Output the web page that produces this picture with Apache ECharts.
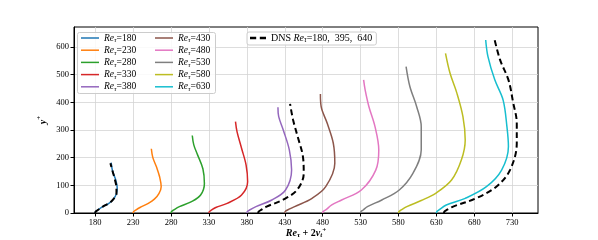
<!DOCTYPE html>
<html><head><meta charset="utf-8">
<script src="https://cdn.jsdelivr.net/npm/echarts@6/dist/echarts.min.js"></script>
<style>html,body{margin:0;padding:0;background:#fff}#c{width:598px;height:240px}</style>
</head><body><div id="c"></div>
<script>
// ---- data ----
const reTau = [180, 230, 280, 330, 380, 430, 480, 530, 580, 630];
const xTicks = [180, 230, 280, 330, 380, 430, 480, 530, 580, 630, 680, 730];
const yTicks = [0, 100, 200, 300, 400, 500, 600];

const y180 = [0, 5, 10, 23, 35, 50, 70, 90, 120, 150, 182];
const x180 = [180, 180.5, 183, 190, 198, 204, 208, 209, 207, 203, 201];
const y230 = [0, 5, 10, 20, 35, 50, 70, 95, 130, 165, 200, 232];
const x230 = [230, 230.5, 233, 239, 250, 258, 264, 267, 265, 261, 256, 254];
const y280 = [0, 5, 10, 23, 41, 65, 107, 160, 210, 246, 280];
const x280 = [280, 280.5, 283, 291, 307, 319, 324, 322, 315, 310, 308];
const y330 = [0, 5, 10, 20, 35, 65, 113, 173, 234, 294, 330];
const x330 = [330, 330.5, 333, 339, 354, 373, 381, 379, 373, 367, 365];
const y380 = [0, 5, 10, 23, 47, 83, 155, 228, 300, 348, 382];
const x380 = [380, 380.5, 383, 392, 413, 431, 439, 436, 428, 422, 421];
const y430 = [0, 5, 10, 23, 53, 95, 180, 252, 324, 384, 430];
const x430 = [430, 430.5, 433, 443, 466, 484, 496, 494, 486, 478, 477];
const y480 = [0, 5, 11, 29, 47, 83, 155, 228, 312, 384, 445, 481];
const x480 = [480, 480.5, 484, 492, 505, 531, 550, 554, 549, 541, 536, 534];
const y530 = [0, 5, 10, 23, 47, 83, 143, 228, 312, 384, 457, 529];
const x530 = [530, 530.5, 533, 539, 558, 581, 599, 610, 610, 604, 595, 590];
const y580 = [0, 5, 10, 23, 45, 71, 119, 192, 264, 348, 433, 505, 577];
const x580 = [580, 580.5, 583, 591, 610, 629, 650, 663, 668, 665, 657, 648, 642];
const y630 = [0, 5, 10, 29, 53, 95, 155, 240, 312, 408, 481, 565, 625];
const x630 = [630, 630.5, 633, 643, 668, 696, 716, 725, 723, 718, 707, 698, 695];

const yDns180 = [0, 5, 10, 23, 35, 50, 70, 90, 120, 150, 180];
const xDns180 = [180, 180.5, 183, 190, 198, 204, 208, 208, 206, 203, 200];
const yDns395 = [0, 5, 10, 23, 47, 83, 143, 203, 276, 336, 394];
const xDns395 = [395, 395.5, 398, 406, 427, 446, 455, 454, 447, 441, 437];
const yDns640 = [0, 5, 10, 23, 53, 95, 155, 252, 324, 402, 481, 553, 635];
const xDns640 = [640, 640.5, 643, 652, 682, 709, 727, 736, 736, 731, 725, 714, 706];

const modelX = [x180, x230, x280, x330, x380, x430, x480, x530, x580, x630];
const modelY = [y180, y230, y280, y330, y380, y430, y480, y530, y580, y630];
const dnsX = [xDns180, xDns395, xDns640];
const dnsY = [yDns180, yDns395, yDns640];
const dnsLabel = '180,  395,  640';

const colors = ['#1f77b4', '#ff7f0e', '#2ca02c', '#d62728', '#9467bd',
                '#8c564b', '#e377c2', '#7f7f7f', '#bcbd22', '#17becf'];

const pairs = (xs, ys) => xs.map((v, i) => [v, ys[i]]);
const FONT = 'Liberation Serif';

const series = reTau.map((re, k) => ({
  name: 'Re' + re, type: 'line', data: pairs(modelX[k], modelY[k]),
  showSymbol: false, symbol: 'none', smooth: 0.35, z: 3,
  lineStyle: { color: colors[k], width: 1.5 }, itemStyle: { color: colors[k] }
}));
let dnsData = [];
dnsX.forEach((xs, k) => { if (k) dnsData.push([null, null]); dnsData = dnsData.concat(pairs(xs, dnsY[k])); });
series.push({
  name: 'DNS', type: 'line', data: dnsData, connectNulls: false,
  showSymbol: false, symbol: 'none', smooth: 0.35, z: 4,
  lineStyle: { color: '#000', width: 2, type: [6, 3.5] }, itemStyle: { color: '#000' }
});

const mkRich = fs => ({
  i: { fontFamily: FONT, fontStyle: 'italic', fontSize: fs, lineHeight: 12, color: '#000' },
  s: { fontFamily: FONT, fontStyle: 'italic', fontSize: fs * 0.74, lineHeight: 12, verticalAlign: 'bottom', color: '#000' },
  n: { fontFamily: FONT, fontSize: fs, lineHeight: 12, color: '#000' }
});
const legendCommon = {
  orient: 'vertical', itemWidth: 18, itemHeight: 8, itemGap: 1.2, padding: 0,
  textStyle: { rich: mkRich(9.5), padding: [0, 0, 0, 0] }, icon: 'path://M0,0L18,0L18,1.5L0,1.5Z',
  selectedMode: false
};
const fmt = name => name === 'DNS'
  ? `{n|DNS }{i|Re}{s|τ}{n|=${dnsLabel}}`
  : `{i|Re}{s|τ}{n|=${name.slice(2)}}`;

const option = {
  animation: false,
  grid: { left: 74, right: 60, top: 27, bottom: 27, outerBoundsMode: 'none', containLabel: false,
          show: true, borderColor: '#000', borderWidth: 1 },
  xAxis: {
    type: 'value', min: 152, max: 764,
    axisLine: { lineStyle: { color: '#000', width: 1 } },
    axisTick: { show: true, length: 3.5, customValues: xTicks, lineStyle: { color: '#000' } },
    axisLabel: { customValues: xTicks, fontFamily: FONT, fontSize: 8.5, color: '#000', margin: 5 },
    splitLine: { show: true, lineStyle: { color: '#d4d4d4', width: 0.8 } },
    name: '{b|Re}{bs|τ}{bn| + 2}{b|ν}{bs|t}{bp|+}', nameLocation: 'middle', nameGap: 14, nameMoveOverlap: false,
    nameTextStyle: { rich: {
      b: { fontFamily: FONT, fontStyle: 'italic', fontWeight: 'bold', fontSize: 10, lineHeight: 12, color: '#000' },
      bn: { fontFamily: FONT, fontWeight: 'bold', fontSize: 10, lineHeight: 12, color: '#000' },
      bs: { fontFamily: FONT, fontStyle: 'italic', fontWeight: 'bold', fontSize: 7, lineHeight: 12, verticalAlign: 'bottom', color: '#000' },
      bp: { fontFamily: FONT, fontWeight: 'bold', fontSize: 7, lineHeight: 12, verticalAlign: 'top', color: '#000' }
    } }
  },
  yAxis: {
    type: 'value', min: 0, max: 672,
    axisLine: { show: true, lineStyle: { color: '#000', width: 1 } },
    axisTick: { show: true, length: 3.5, customValues: yTicks, lineStyle: { color: '#000' } },
    axisLabel: { customValues: yTicks, fontFamily: FONT, fontSize: 8.5, color: '#000', margin: 5 },
    splitLine: { show: true, lineStyle: { color: '#d4d4d4', width: 0.8 } },
    name: '{b|y}{bp|+}', nameLocation: 'middle', nameGap: 24, nameMoveOverlap: false,
    nameTextStyle: { rich: {
      b: { fontFamily: FONT, fontStyle: 'italic', fontWeight: 'bold', fontSize: 10, lineHeight: 14, color: '#000' },
      bp: { fontFamily: FONT, fontWeight: 'bold', fontSize: 7, lineHeight: 14, verticalAlign: 'top', color: '#000' }
    } }
  },
  graphic: [{
    type: 'rect', left: 77, top: 32, z: 10, silent: true,
    shape: { width: 138, height: 61, r: 2 },
    style: { fill: 'rgba(255,255,255,0.85)', stroke: '#cccccc', lineWidth: 1 }
  }],
  legend: [
    Object.assign({}, legendCommon, { left: 81, top: 33, data: reTau.slice(0, 5).map(r => 'Re' + r), formatter: fmt, z: 20 }),
    Object.assign({}, legendCommon, { left: 155, top: 33, data: reTau.slice(5).map(r => 'Re' + r), formatter: fmt, z: 20 }),
    Object.assign({}, legendCommon, {
      left: 247, top: 32, data: ['DNS'], formatter: fmt, z: 20,
      textStyle: { rich: mkRich(10) },
      itemStyle: {}, icon: 'path://M0,0L6,0L6,2.5L0,2.5ZM9.5,0L15.5,0L15.5,2.5L9.5,2.5Z', itemWidth: 16, itemHeight: 3,
      padding: [1, 4, 1, 3], backgroundColor: 'rgba(255,255,255,0.85)', borderColor: '#cccccc', borderWidth: 1, borderRadius: 2
    })
  ],
  series
};
const chart = echarts.init(document.getElementById('c'), null, { renderer: 'canvas' });
chart.setOption(option);
</script></body></html>
